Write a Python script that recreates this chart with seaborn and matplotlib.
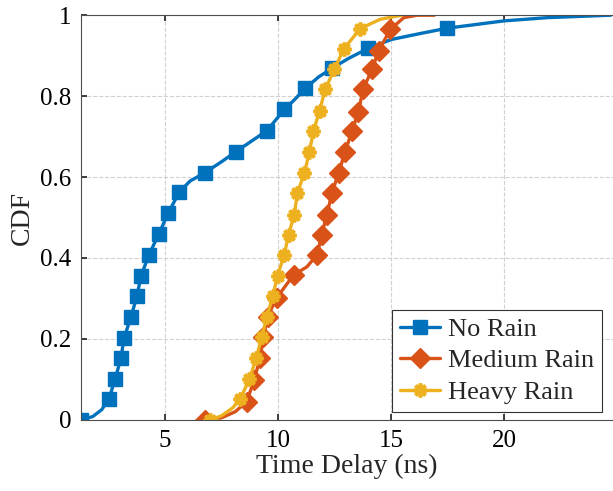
import numpy as np
import pandas as pd
import matplotlib
matplotlib.use("Agg")
import matplotlib.pyplot as plt
import seaborn as sns

sns.set_theme(style="ticks")
plt.rcParams["font.family"] = "serif"
plt.rcParams["font.serif"] = ["Liberation Serif", "Times New Roman", "DejaVu Serif"]

# --- data (line vertices, with marker flags) ---
no_rain_x = [1.28, 1.8, 2.2, 2.52, 2.79, 3.05, 3.19, 3.50, 3.76, 3.94, 4.29, 4.73, 5.13, 5.62,
             6.1, 6.77, 7.5, 8.14, 9.51, 10.27, 10.7, 11.19, 11.8, 12.39, 13.1, 13.98,
             15.0, 16.3, 17.48, 19.98, 21.9, 24.7]
no_rain_y = [0.0, 0.008, 0.025, 0.052, 0.10, 0.153, 0.203, 0.255, 0.307, 0.356, 0.408, 0.46, 0.51, 0.562,
             0.59, 0.611, 0.638, 0.663, 0.715, 0.767, 0.79, 0.819, 0.848, 0.869, 0.893, 0.918,
             0.94, 0.955, 0.968, 0.986, 0.994, 1.0]
no_rain_mark = [0, 3, 4, 5, 6, 7, 8, 9, 10, 11, 12, 13, 15, 17, 18, 19, 21, 23, 25, 28]

medium_x = [6.77, 7.5, 8.1, 8.61, 8.94, 9.20, 9.35, 9.53, 9.94, 10.68, 11.27, 11.72, 11.93, 12.15,
            12.38, 12.67, 12.96, 13.26, 13.55, 13.75, 14.15, 14.44, 14.96, 15.55, 16.14, 16.9]
medium_y = [0.0, 0.005, 0.02, 0.045, 0.099, 0.153, 0.205, 0.255, 0.302, 0.358, 0.378, 0.408, 0.458, 0.507,
            0.561, 0.61, 0.662, 0.714, 0.761, 0.817, 0.866, 0.912, 0.965, 0.994, 1.0, 1.0]
medium_mark = [0, 3, 4, 5, 6, 7, 8, 9, 11, 12, 13, 14, 15, 16, 17, 18, 19, 20, 21, 22]

heavy_x = [6.99, 7.5, 8.0, 8.32, 8.73, 9.03, 9.28, 9.50, 9.77, 9.97, 10.27, 10.46, 10.71, 10.85,
           11.16, 11.38, 11.56, 11.83, 12.08, 12.48, 12.89, 13.63, 14.51, 15.47]
heavy_y = [0.0, 0.01, 0.03, 0.052, 0.10, 0.153, 0.205, 0.255, 0.307, 0.356, 0.408, 0.458, 0.507, 0.561,
           0.61, 0.662, 0.714, 0.764, 0.817, 0.866, 0.916, 0.967, 0.99, 1.0]
heavy_mark = [0, 3, 4, 5, 6, 7, 8, 9, 10, 11, 12, 13, 14, 15, 16, 17, 18, 19, 20, 21]

labels = ["No Rain", "Medium Rain", "Heavy Rain"]
colors = ["#0072BD", "#D95319", "#EDB120"]

fig = plt.figure(figsize=(6.13, 4.91), dpi=100)
ax = fig.add_axes([0.132, 0.145, 0.868, 0.824])

series = [(no_rain_x, no_rain_y, no_rain_mark, "s", 10.5, 1.0),
          (medium_x, medium_y, medium_mark, "D", 10.5, 1.0),
          (heavy_x, heavy_y, heavy_mark, (8, 2, 0), 10, 2.6)]
for (xs, ys, mk, m, ms, mew), lab, c in zip(series, labels, colors):
    df = pd.DataFrame({"x": xs, "y": ys})
    sns.lineplot(data=df, x="x", y="y", sort=False, ax=ax, color=c, lw=2.4,
                 marker=m, markersize=ms, markevery=mk, markeredgewidth=mew,
                 markerfacecolor=c, markeredgecolor=c, label=lab)

ax.set_xlim(1.28, 24.8)
ax.set_ylim(0, 1)
ax.set_xticks([5, 10, 15, 20])
ax.set_yticks([0, 0.2, 0.4, 0.6, 0.8, 1])
ax.set_yticklabels(["0", "0.2", "0.4", "0.6", "0.8", "1"])
ax.grid(True, ls="--", color="#d0d0d0", lw=0.8)
ax.tick_params(direction="in", length=4, labelsize=18, top=True, colors="#262626",
               labelcolor="black", pad=7)
for s in ["left", "bottom", "top"]:
    ax.spines[s].set_color("#4d4d4d")
    ax.spines[s].set_linewidth(0.8)
ax.spines["right"].set_visible(False)
ax.set_xlabel("Time Delay (ns)", fontsize=20, labelpad=2)
ax.set_ylabel("CDF", fontsize=20, labelpad=4)

leg = ax.legend(loc="lower right", fontsize=19, frameon=True, fancybox=False,
                framealpha=1, edgecolor="#333333", handlelength=1.5,
                borderpad=0.3, labelspacing=0.3, handletextpad=0.3,
                borderaxespad=0, bbox_to_anchor=(0.979, 0.02))
leg.get_frame().set_linewidth(0.8)

fig.savefig("out.png", dpi=100)
